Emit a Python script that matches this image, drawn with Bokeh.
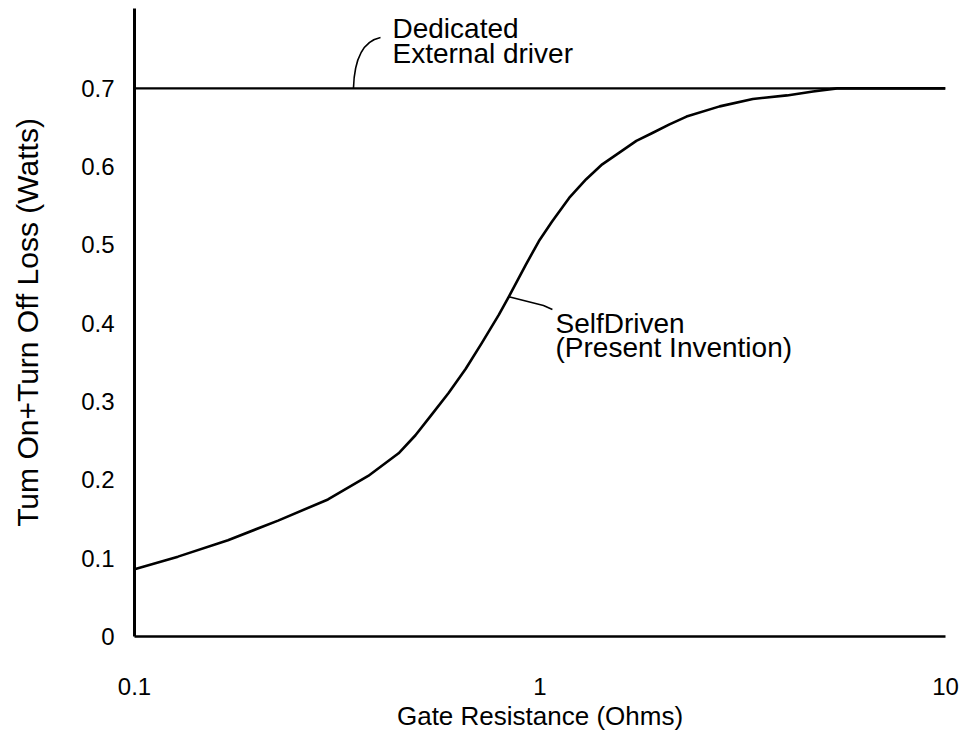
from bokeh.plotting import figure
from bokeh.models import FixedTicker, Label, Range1d
from bokeh.embed import file_html
from bokeh.resources import INLINE

# ---- data ----
gate_res = [0.1, 0.128, 0.17, 0.226, 0.30, 0.377, 0.448, 0.493, 0.54, 0.595,
            0.656, 0.719, 0.792, 0.838, 0.923, 0.994, 1.071, 1.18, 1.30,
            1.424, 1.569, 1.728, 1.893, 2.086, 2.298, 2.774, 3.348, 4.063,
            4.713, 5.40, 10.0]
self_driven_loss = [0.086, 0.102, 0.123, 0.148, 0.175, 0.205, 0.234, 0.257,
                    0.283, 0.311, 0.342, 0.375, 0.411, 0.434, 0.475, 0.505,
                    0.530, 0.560, 0.584, 0.603, 0.618, 0.633, 0.643, 0.654,
                    0.664, 0.677, 0.6865, 0.691, 0.696, 0.700, 0.700]
external_res = [0.1, 10.0]
external_loss = [0.7, 0.7]

x_ticks = [0.1, 1, 10]
x_tick_labels = ["0.1", "1", "10"]
y_ticks = [0, 0.1, 0.2, 0.3, 0.4, 0.5, 0.6, 0.7]
y_tick_labels = ["0", "0.1", "0.2", "0.3", "0.4", "0.5", "0.6", "0.7"]

x_title = "Gate Resistance (Ohms)"
y_title = "Tum On+Turn Off Loss (Watts)"
ext_label = ["Dedicated", "External driver"]
self_label = ["SelfDriven", "(Present Invention)"]

FONT = "Liberation Sans"

p = figure(width=972, height=736, x_axis_type="log",
           x_range=Range1d(0.1, 10), y_range=Range1d(0, 0.802),
           output_backend="svg", toolbar_location=None,
           min_border_left=134, min_border_right=27,
           min_border_top=8, min_border_bottom=100)
p.outline_line_color = None
p.xgrid.visible = False
p.ygrid.visible = False
p.background_fill_color = "white"
p.border_fill_color = "white"

# axes
p.xaxis.ticker = FixedTicker(ticks=x_ticks)
p.xaxis.major_label_overrides = {t: l for t, l in zip(x_ticks, x_tick_labels)}
p.yaxis.ticker = FixedTicker(ticks=y_ticks)
p.yaxis.major_label_overrides = {t: l for t, l in zip(y_ticks, y_tick_labels)}
for ax in (p.xaxis, p.yaxis):
    ax.major_tick_line_color = None
    ax.minor_tick_line_color = None
    ax.major_tick_out = 0
    ax.major_tick_in = 0
    ax.axis_line_color = "black"
    ax.major_label_text_font = FONT
    ax.major_label_text_font_size = "24px"
    ax.major_label_text_color = "black"
    ax.axis_label_text_font = FONT
    ax.axis_label_text_font_style = "normal"
    ax.axis_label_text_color = "black"
p.xaxis.axis_label_text_font_size = "26px"
p.yaxis.axis_label_text_font_size = "30px"
p.yaxis.axis_line_width = 3
p.xaxis.axis_line_width = 2.5
p.xaxis.axis_label = x_title
p.yaxis.axis_label = y_title
p.xaxis.major_label_standoff = 41
p.xaxis.axis_label_standoff = 3
p.yaxis.major_label_standoff = 20
p.yaxis.axis_label_standoff = 34

# curves
p.line(external_res, external_loss, line_color="black", line_width=2.2)
p.line(gate_res, self_driven_loss, line_color="black", line_width=2.6,
       line_join="round")

# leader lines (annotation geometry)
p.bezier(x0=[0.3467], y0=[0.70], x1=[0.4043], y1=[0.765],
         cx0=[0.3486], cy0=[0.742], cx1=[0.3712], cy1=[0.761],
         line_color="black", line_width=1.6)
p.line([0.838, 1.020, 1.073], [0.434, 0.4228, 0.4177],
       line_color="black", line_width=1.6)

# annotation text
for txt, yv in zip(ext_label, [0.7766, 0.7447]):
    p.add_layout(Label(x=0.4327, y=yv, text=txt, text_font=FONT,
                       text_font_size="28px", text_color="black",
                       text_align="left", text_baseline="alphabetic"))
for txt, yv in zip(self_label, [0.3998, 0.3691]):
    p.add_layout(Label(x=1.092, y=yv, text=txt, text_font=FONT,
                       text_font_size="28px", text_color="black",
                       text_align="left", text_baseline="alphabetic"))

open("out.html", "w").write(file_html(p, INLINE))
